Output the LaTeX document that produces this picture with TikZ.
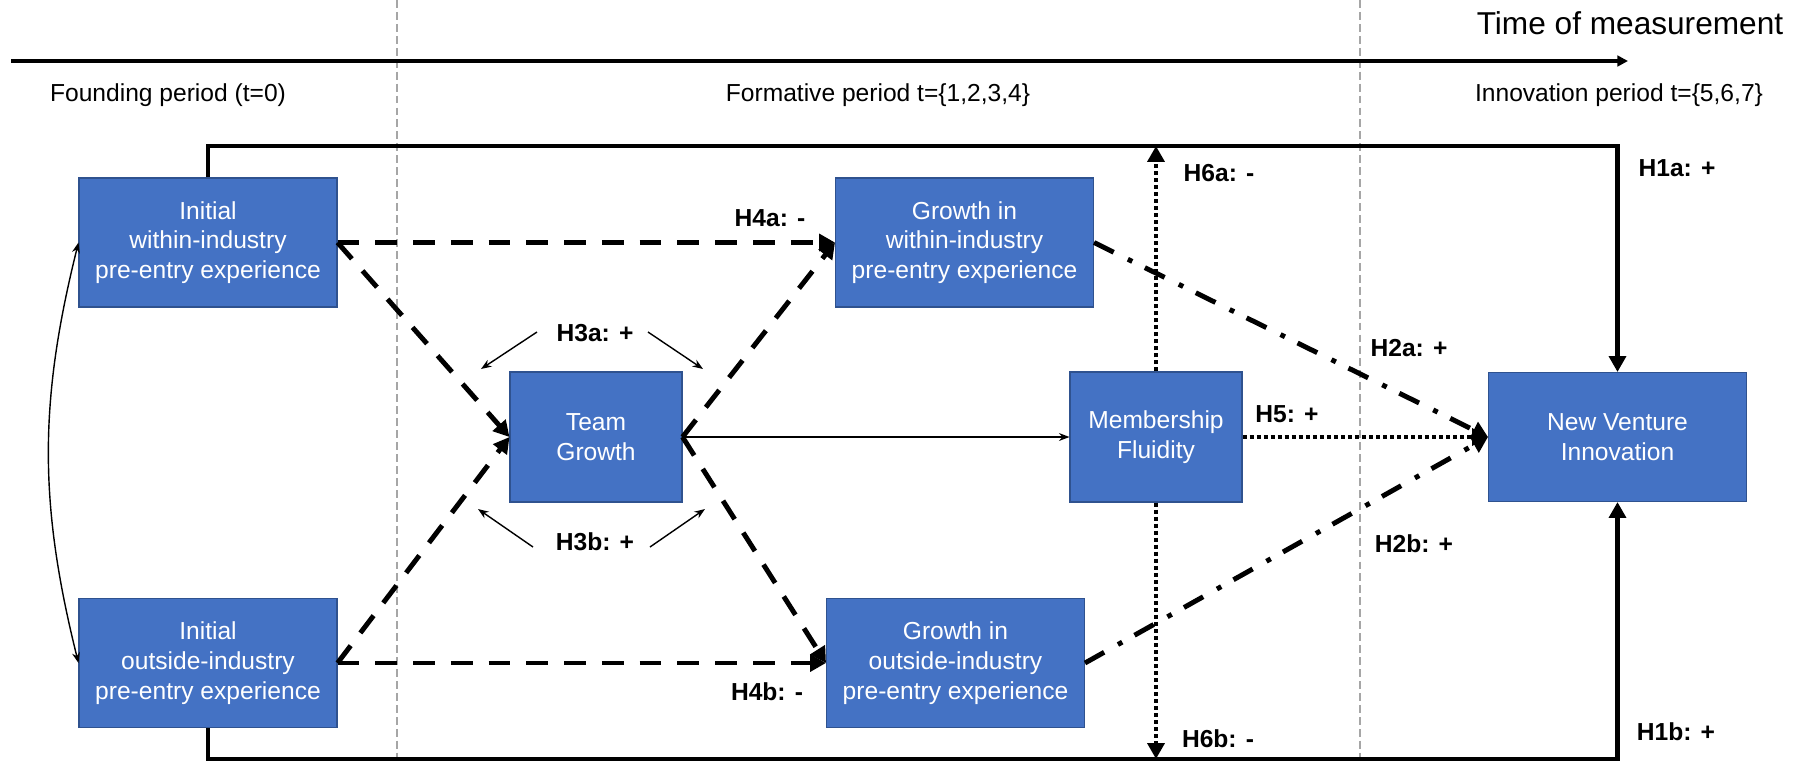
\documentclass[tikz,border=0pt]{standalone}
\usepackage{fontspec}
\setmainfont{Liberation Sans}
\usetikzlibrary{arrows.meta}
\definecolor{boxblue}{HTML}{4472C4}
\definecolor{boxedge}{HTML}{2F528F}
\definecolor{guidegray}{HTML}{A6A6A6}

\begin{document}
\begin{tikzpicture}[x=0.02cm, y=-0.02cm,
    box/.style={draw=boxedge, line width=0.6pt, fill=boxblue, text=white, align=center,
                inner sep=0pt, font=\fontsize{14}{17}\selectfont},
    widebox/.style={box, minimum width=5.16cm, minimum height=2.58cm},
    smallbox/.style={box, minimum width=3.44cm, minimum height=2.6cm},
    hyp/.style={inner sep=0pt, font=\fontsize{14}{17}\selectfont\bfseries},
    period/.style={inner sep=0pt, font=\fontsize{14}{17}\selectfont},
    guide/.style={guidegray, line width=0.6pt, dash pattern=on 4.5pt off 2.3pt},
    rail/.style={line width=2.8pt, -{Triangle[length=9pt, width=9.5pt]}},
    dasharrow/.style={line width=2.8pt, dash pattern=on 12.4pt off 9.1pt, -{Triangle[length=9pt, width=9.5pt]}},
    dotarrow/.style={line width=2.6pt, dash pattern=on 2.3pt off 1.7pt, -{Triangle[length=9pt, width=9.5pt]}},
    dashdotarrow/.style={line width=2.8pt, dash pattern=on 12.5pt off 9pt on 2.8pt off 8pt, -{Triangle[length=9pt, width=10pt]}},
    pointer/.style={line width=0.8pt, -{Stealth[length=6pt, width=4.5pt]}}]
    \useasboundingbox (0,0) rectangle (1800,762);

    \draw[guide] (397,0) -- (397,762);
    \draw[guide] (1360,0) -- (1360,762);

    \node[inner sep=0pt, font=\fontsize{18}{21}\selectfont] (title) at (1630,23) {Time of measurement};
    \coordinate (t0) at (11,61);
    \coordinate (t1) at (1628,61);
    \draw[line width=2pt, -{Triangle[length=6pt, width=6pt]}] (t0) -- (t1);
    \node[period] (p0) at (168,95) {Founding period (t=0)};
    \node[period] (p1) at (878,95) {Formative period t=\{1,2,3,4\}};
    \node[period] (p2) at (1619,95) {Innovation period t=\{5,6,7\}};

    \node[widebox] (w0) at (208,242.5) {Initial\\within-industry\\pre-entry experience};
    \node[widebox] (o0) at (208,663) {Initial\\outside-industry\\pre-entry experience};
    \node[smallbox] (tg) at (596,437) {Team\\Growth};
    \node[widebox] (wg) at (964.5,242.5) {Growth in\\within-industry\\pre-entry experience};
    \node[widebox] (og) at (955.5,663) {Growth in\\outside-industry\\pre-entry experience};
    \node[smallbox] (mf) at (1156,437) {Membership\\Fluidity};
    \node[widebox] (nvi) at (1617.5,437) {New Venture\\Innovation};

    \coordinate (toprail) at (0,146);
    \coordinate (botrail) at (0,759);
    \draw[rail] (w0.north) -- (w0.north |- toprail) -| (nvi.north);
    \draw[rail] (o0.south) -- (o0.south |- botrail) -| (nvi.south);

    \draw[pointer, {Stealth[length=6pt, width=4.5pt]}-{Stealth[length=6pt, width=4.5pt]}] (w0.west) to[bend right=14] (o0.west);

    \draw[dasharrow] (w0.east) -- (wg.west);
    \draw[dasharrow] (o0.east) -- (og.west);
    \draw[dasharrow] (w0.east) -- (tg.west);
    \draw[dasharrow] (o0.east) -- (tg.west);
    \draw[dasharrow] (tg.east) -- (wg.west);
    \draw[dasharrow] (tg.east) -- (og.west);
    \draw[pointer] (tg.east) -- (mf.west);
    \draw[dotarrow] (mf.east) -- (nvi.west);
    \draw[dotarrow] (mf.north) -- (mf.north |- toprail);
    \draw[dotarrow] (mf.south) -- (mf.south |- botrail);
    \draw[dashdotarrow] (wg.east) -- (nvi.west);
    \draw[dashdotarrow] (og.east) -- (nvi.west);

    \node[hyp] (h1a) at (1677,168) {H1a: +};
    \node[hyp] (h1b) at (1676,732) {H1b: +};
    \node[hyp] (h2a) at (1409,348) {H2a: +};
    \node[hyp] (h2b) at (1414,544) {H2b: +};
    \node[hyp] (h3a) at (595,333) {H3a: +};
    \node[hyp] (h3b) at (595,542) {H3b: +};
    \node[hyp] (h4a) at (770,218) {H4a: -};
    \node[hyp] (h4b) at (767,692) {H4b: -};
    \node[hyp] (h5) at (1287,414) {H5: +};
    \node[hyp] (h6a) at (1219,173) {H6a: -};
    \node[hyp] (h6b) at (1218,739) {H6b: -};

    \coordinate (a1) at (537,332);
    \coordinate (a2) at (481,369);
    \coordinate (a3) at (648,332);
    \coordinate (a4) at (703,369);
    \coordinate (b1) at (533,547);
    \coordinate (b2) at (478,509);
    \coordinate (b3) at (650,547);
    \coordinate (b4) at (705,509);
    \draw[pointer] (a1) -- (a2);
    \draw[pointer] (a3) -- (a4);
    \draw[pointer] (b1) -- (b2);
    \draw[pointer] (b3) -- (b4);
\end{tikzpicture}
\end{document}
